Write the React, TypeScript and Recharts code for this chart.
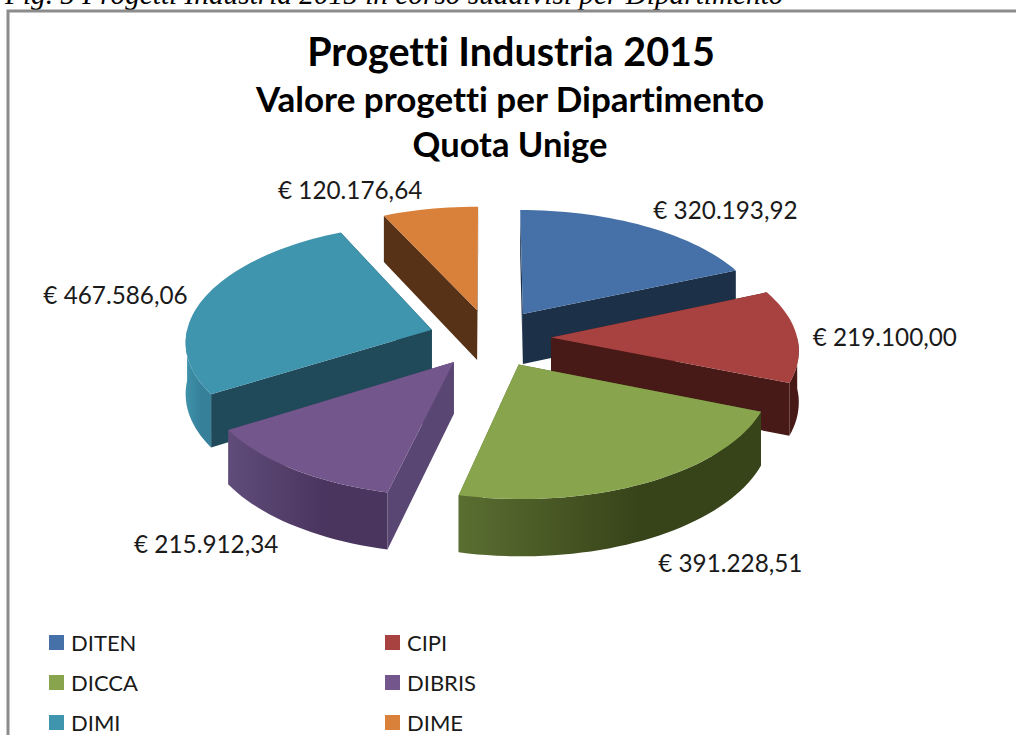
import React from "react";
import { Legend, Pie, PieChart } from "recharts";

const departments = ["DITEN", "CIPI", "DICCA", "DIBRIS", "DIMI", "DIME"];
const values = [320193.92, 219100.0, 391228.51, 215912.34, 467586.06, 120176.64];
const titleLines = ["Progetti Industria 2015", "Valore progetti per Dipartimento", "Quota Unige"];
const caption = "Fig. 5 Progetti Industria 2015 in corso suddivisi per Dipartimento";

const topColors = ["#4671A8", "#A74240", "#88A44C", "#72568C", "#3F94AE", "#D9803B"];
const sideColors = ["#1C3048", "#471A18", "#56682E", "#5A4672", "#204A5A", "#573216"];
const rimLeft = ["#1C3048", "#471A18", "#5A6E31", "#604C7A", "#3F92AB", "#573216"];
const rimRight = ["#1C3048", "#471A18", "#374319", "#4A355F", "#36809A", "#573216"];
const labelOffsets = [[81.5, -16], [88, 1], [83, 80], [-87, 74], [-89, -3], [-80, -19]];

const backSlices = [0, 4, 5];
const frontSlices = [1, 2, 3];

const data = departments.map((name, i) => ({ name, value: values[i], fill: topColors[i] }));

// fake 3D: exploded slices projected with a little perspective
const EXPLODE = 62;
const TILT = 0.47;
const WIDEN = 0.985;
const PERSPECTIVE = 0.09;
const DEPTH = 51;

const rad = (a: number) => (a * Math.PI) / 180;

function project(cx: number, cy: number, r: number, u: number, v: number, drop = 0) {
  const s = 1 / (1 + (PERSPECTIVE * v) / r);
  return [cx + WIDEN * u * s, cy - TILT * v * s + drop * s];
}

function slicePoint(p: any, theta: number, radius: number, drop = 0) {
  const mid = rad(90 - (p.startAngle + p.endAngle) / 2);
  const u = radius * Math.sin(rad(theta)) + EXPLODE * Math.sin(mid);
  const v = radius * Math.cos(rad(theta)) + EXPLODE * Math.cos(mid);
  return project(p.cx, p.cy, p.outerRadius, u, v, drop);
}

const toPath = (pts: number[][]) =>
  "M" + pts.map((q) => q[0].toFixed(1) + " " + q[1].toFixed(1)).join("L") + "Z";

function arc(from: number, to: number) {
  const out: number[] = [];
  const n = Math.max(1, Math.ceil((to - from) / 2));
  for (let i = 0; i <= n; i++) out.push(from + ((to - from) * i) / n);
  return out;
}

function makeShape(visible: number[]) {
  return function SliceShape(p: any) {
    const i = p.index ?? departments.indexOf(p.name);
    if (!visible.includes(i)) return <g />;
    const a0 = 90 - p.startAngle;
    const a1 = 90 - p.endAngle;
    const R = p.outerRadius;
    const apex = slicePoint(p, 0, 0);
    const apexLow = slicePoint(p, 0, 0, DEPTH);
    const face = (t: number) =>
      toPath([apex, slicePoint(p, t, R), slicePoint(p, t, R, DEPTH), apexLow]);
    const top = toPath([apex, ...arc(a0, a1).map((t) => slicePoint(p, t, R))]);
    const r0 = Math.max(a0, 90);
    const r1 = Math.min(a1, 270);
    const gradId = "rim" + i;
    return (
      <g>
        <defs>
          <linearGradient id={gradId} x1="0" y1="0" x2="1" y2="0">
            <stop offset="0" stopColor={rimLeft[i]} />
            <stop offset="0.6" stopColor={rimRight[i]} />
            <stop offset="1" stopColor={rimRight[i]} />
          </linearGradient>
        </defs>
        <path d={face(a0)} fill={sideColors[i]} />
        <path d={face(a1)} fill={sideColors[i]} />
        {r1 > r0 && (
          <path
            d={toPath([
              ...arc(r0, r1).map((t) => slicePoint(p, t, R)),
              ...arc(r0, r1).reverse().map((t) => slicePoint(p, t, R, DEPTH)),
            ])}
            fill={`url(#${gradId})`}
          />
        )}
        <path d={top} fill={topColors[i]} />
      </g>
    );
  };
}

const euro = (v: number) => {
  const [whole, dec] = v.toFixed(2).split(".");
  return "€ " + whole.replace(/\B(?=(\d{3})+$)/g, ".") + "," + dec;
};

function renderLabel(p: any) {
  const i = p.index;
  const mid = 90 - (p.startAngle + p.endAngle) / 2;
  const [x, y] = slicePoint(p, mid, p.outerRadius);
  return (
    <text
      key={i}
      x={x + labelOffsets[i][0]}
      y={y + labelOffsets[i][1]}
      textAnchor="middle"
      dominantBaseline="central"
      fontSize={24.3}
      fill="#1a1a1a"
    >
      {euro(values[i])}
    </text>
  );
}

function LegendGrid({ payload }: any) {
  // two Pies feed the legend, keep one entry per department
  const items = departments.map((d) => (payload || []).find((it: any) => it.value === d)).filter(Boolean);
  return (
    <div
      style={{
        display: "grid",
        gridTemplateColumns: "336px 300px",
        gridAutoRows: "40px",
        fontFamily: "Lato",
        fontSize: 22,
        color: "#1a1a1a",
      }}
    >
      {items.map((item: any) => (
        <div key={item.value} style={{ display: "flex", alignItems: "center" }}>
          <span
            style={{ width: 15, height: 15, background: item.color, marginRight: 7, display: "block" }}
          />
          {item.value}
        </div>
      ))}
    </div>
  );
}

export default function App() {
  return (
    <div style={{ position: "absolute", left: 0, top: 0, width: 1016, height: 735, overflow: "hidden", background: "#fff" }}>
      <PieChart
        width={1016}
        height={735}
        margin={{ top: 0, right: 0, bottom: 0, left: 0 }}
        style={{ fontFamily: "Lato", fontVariantLigatures: "none" }}
      >
        <text x={5} y={4} fontFamily="Liberation Serif" fontStyle="italic" fontSize={29.3} fill="#000">
          {caption}
        </text>
        <path d="M8 735V11H1016" fill="none" stroke="#8c8c8c" strokeWidth={3} />
        <text x={511} y={66} textAnchor="middle" fontWeight={700} fontSize={39.5} fill="#000">
          {titleLines[0]}
        </text>
        <text x={510} y={112} textAnchor="middle" fontWeight={700} fontSize={35} fill="#000">
          {titleLines[1]}
        </text>
        <text x={510} y={157} textAnchor="middle" fontWeight={700} fontSize={34.5} fill="#000">
          {titleLines[2]}
        </text>
        <Pie
          data={data}
          dataKey="value"
          nameKey="name"
          cx={490}
          cy={338}
          outerRadius={250}
          startAngle={90}
          endAngle={-270}
          stroke="none"
          legendType="none"
          shape={makeShape(backSlices)}
          isAnimationActive={false}
        />
        <Pie
          data={data}
          dataKey="value"
          nameKey="name"
          cx={490}
          cy={338}
          outerRadius={250}
          startAngle={90}
          endAngle={-270}
          stroke="none"
          shape={makeShape(frontSlices)}
          label={renderLabel}
          labelLine={false}
          isAnimationActive={false}
        />
        <Legend
          content={<LegendGrid />}
          verticalAlign="bottom"
          itemSorter={null}
          wrapperStyle={{ left: 49, top: 622, bottom: "auto", width: 640 }}
        />
      </PieChart>
    </div>
  );
}
